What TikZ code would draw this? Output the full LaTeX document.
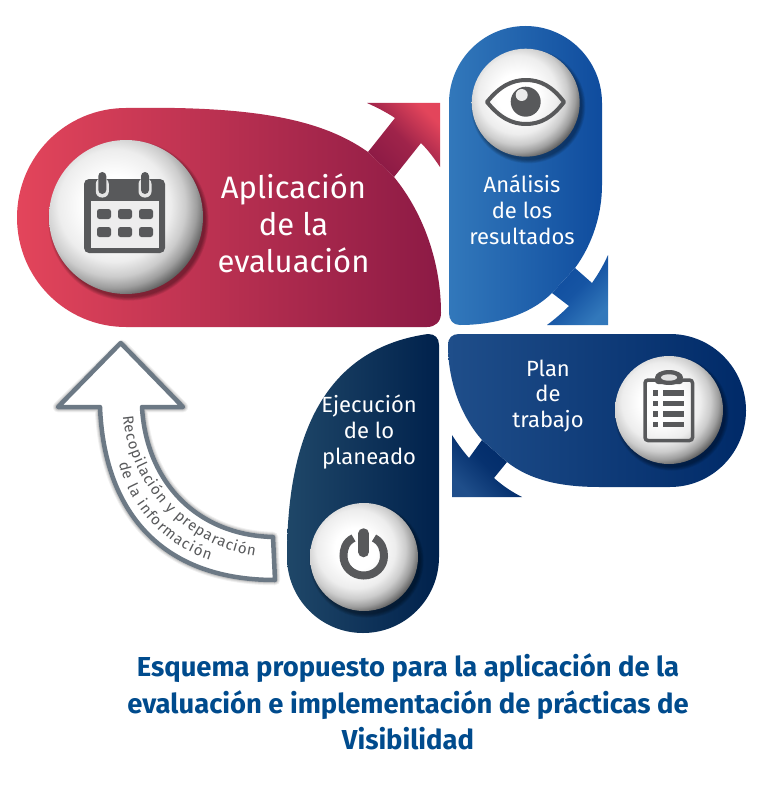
\documentclass[tikz,border=0pt]{standalone}
\usepackage{fontspec}
\setmainfont{Fira Sans}
\usetikzlibrary{decorations.text}
\definecolor{redL}{HTML}{E3455B}
\definecolor{redD}{HTML}{8C1A45}
\definecolor{bluL}{HTML}{3278BB}
\definecolor{bluD}{HTML}{0F4C9E}
\definecolor{plaL}{HTML}{1F4E8A}
\definecolor{plaD}{HTML}{002A68}
\definecolor{ejeL}{HTML}{1F4768}
\definecolor{ejeD}{HTML}{00214C}
\definecolor{icon}{HTML}{58595B}
\definecolor{arrowgray}{HTML}{6C7985}
\definecolor{titleblue}{HTML}{004B8D}
\pgfdeclareradialshading{ballshade}{\pgfpointorigin}{%
  color(0bp)=(white);
  color(8bp)=(white);
  color(15bp)=(black!7);
  color(19bp)=(black!20);
  color(22bp)=(black!38);
  color(25bp)=(black!65);
  color(50bp)=(black!65)}
\newcommand{\ball}[3]{% cx, cy, r
  \foreach \k in {1,...,6}{
    \fill[black,opacity=0.07] ({#1+2.5},{#2+3.5}) circle[radius={#3+\k*0.7-1}];
  }
  \begin{scope}
    \clip (#1,#2) circle[radius=#3];
    \shade[shading=ballshade] ({#1-0.15*#3},{#2-0.15*#3}) circle[radius={#3*1.212}];
  \end{scope}
}
\tikzset{
  x=1pt,y=-1pt,
  lab/.style={text=white,align=center,font=\fontsize{#1}{#1}\selectfont,inner sep=0pt},
  lab/.default=22,
  curved/.style={decoration={text along path,text align={fit to path},
     text={|\fontsize{15}{15}\selectfont\color{icon}|#1}},decorate},
}
\begin{document}
\begin{tikzpicture}
\useasboundingbox (0,0) rectangle (771,797);
\fill[white] (0,0) rectangle (771,797);

% ---------- red arrow
\path[bottom color=redD,top color=redL,middle color=redD!78!redL,shading angle=-45]
  (368,152) -- (395,118) .. controls (386,112) and (376,107) .. (367,103) -- (440,103) -- (440,167)
  .. controls (434,158) and (428,150) .. (421,143) -- (394,177) -- cycle;
% ---------- red body
\path[left color=redL,right color=redD]
  (126,108) .. controls (250,106) and (320,118) .. (368,152) -- (394,177)
  .. controls (425,215) and (441,265) .. (441,313)
  .. controls (441,322) and (435,327) .. (427,327) -- (126,327)
  .. controls (65.5,327) and (17,278) .. (17,217.5)
  .. controls (17,157) and (65.5,108) .. (126,108) -- cycle;

% ---------- blue arrow
\path[top color=bluD,bottom color=bluL,middle color=bluD!80!bluL,shading angle=45]
  (575,268) -- (592,283) .. controls (599,273) and (604,264) .. (608,255) -- (608,325) -- (547,325)
  .. controls (555,319) and (562,313) .. (569,306) -- (552,293) -- cycle;
% ---------- blue body
\path[left color=bluL,right color=bluD]
  (449,103) .. controls (449,60.7) and (483.2,26) .. (525.5,26)
  .. controls (567.8,26) and (602,60.7) .. (602,103) -- (602,185)
  .. controls (602,215) and (592,245) .. (575,268) -- (552,293)
  .. controls (530,315) and (495,325) .. (460,325)
  .. controls (453,325) and (449,320) .. (449,313) -- cycle;

% ---------- plan arrow
\path[top color=plaD,bottom color=plaL,middle color=plaD!80!plaL,shading angle=-45]
  (482,440) -- (469,458) .. controls (463,451) and (457,443) .. (452,435) -- (452,497) -- (522,497)
  .. controls (512,492) and (503,486) .. (494,478) -- (507,462) -- cycle;
% ---------- plan body
\path[left color=plaL,right color=plaD]
  (448,345) .. controls (448,338) and (452,334) .. (459,334) -- (670,334)
  .. controls (712,334) and (746,368.3) .. (746,410.5)
  .. controls (746,452.7) and (712,487) .. (670,487) -- (600,487)
  .. controls (560,487) and (530,480) .. (507,462) -- (482,440)
  .. controls (460,415) and (448,380) .. (448,345) -- cycle;

% ---------- ejecucion body
\path[left color=ejeL,right color=ejeD]
  (439,345) .. controls (439,338) and (435,334) .. (428,334)
  .. controls (350,345) and (287,400) .. (287,557)
  .. controls (287,599) and (321,633) .. (363,633)
  .. controls (405,633) and (439,599) .. (439,557) -- cycle;

% ---------- curved arrow
\foreach \k/\o in {1/0.10,2/0.08,3/0.06}{
  \draw[black,opacity=\o,line width={4.5+2*\k},line join=round]
  ([shift={(1,2)}]120.7,343) -- (183,407) -- (142,407) .. controls (146,480) and (195,535) .. (273,537)
  -- (275,580) .. controls (160,580) and (104,510) .. (100,407) -- (58,407) -- cycle;
}
\draw[arrowgray,fill=white,line width=4.5pt,line join=round]
  (120.7,343) -- (183,407) -- (142,407) .. controls (146,480) and (195,535) .. (273,537)
  -- (275,580) .. controls (160,580) and (104,510) .. (100,407) -- (58,407) -- cycle;
\path[curved={Recopilación y preparación}] (123,416) .. controls (128,480) and (180,545) .. (255,556);
\path[curved={de la información}] (119,463) .. controls (127,500) and (160,545) .. (210,560);

% ---------- balls
\ball{126}{217}{77}
\ball{525.7}{102.7}{54}
\ball{669}{410}{54}
\ball{364}{557}{54}

% ---------- calendar icon
\fill[icon,rounded corners=5pt] (84,179) rectangle (165,253);
\fill[black!7] (91,201) rectangle (159,248);
\foreach \cx in {102.3,145}{
  \fill[white!90!black,rounded corners=6pt] ({\cx-6.5},178) rectangle ({\cx+6.5},197.5);
  \fill[icon,rounded corners=4pt] ({\cx-4},172) rectangle ({\cx+4},194);
}
\foreach \cx in {104,125,146}{\foreach \cy in {214,232}{
  \fill[icon,rounded corners=2.5pt] ({\cx-7},{\cy-5}) rectangle ({\cx+7},{\cy+5});
}}

% ---------- eye icon
\draw[icon,line width=4pt,line join=round]
  (487,102) .. controls (500,86) and (512,80) .. (526,80)
  .. controls (540,80) and (552,86) .. (564,102)
  .. controls (552,118) and (540,124) .. (526,124)
  .. controls (512,124) and (500,118) .. (487,102) -- cycle;
\fill[icon] (525.7,101.7) circle[radius=15];
\fill[white!92!black] (521.7,95) circle[radius=6];

% ---------- clipboard icon
\draw[icon,line width=3.5pt,rounded corners=3pt] (645,380) rectangle (692.5,440.5);
\fill[icon,rounded corners=3pt] (655,378) rectangle (683,384);
\fill[icon] (669,377.5) ellipse[x radius=14,y radius=7.5];
\fill[black!12] (669,377.5) ellipse[x radius=8,y radius=3.2];
\foreach \cy in {393,403.7,414,424.3}{
  \fill[icon] (652.5,{\cy-2.6}) rectangle (658,{\cy+2.6});
  \fill[icon] (663,{\cy-2.6}) rectangle (684,{\cy+2.6});
}

% ---------- power icon
\draw[icon,line width=8pt] (353.5,538) .. controls (345,542) and (343.5,550) .. (343.5,556)
  .. controls (343.5,567) and (352.5,575.5) .. (363.7,575.5)
  .. controls (375,575.5) and (384,567) .. (384,556)
  .. controls (384,550) and (382,542) .. (374,538);
\draw[icon,line width=10.5pt,line cap=round] (363.7,533.5) -- (363.7,552);

% ---------- texts
\node[lab=31] (aplic) at (293.5,223.5) {Aplicación\\[6pt]de la\\[6pt]evaluación};
\node[lab=22] (anal) at (522,210) {Análisis\\[3.8pt]de los\\[3.8pt]resultados};
\node[lab=22] (plan) at (548,396) {Plan\\[3.8pt]de\\[3.8pt]trabajo};
\node[lab=22] (ejec) at (369,432) {Ejecución\\[3.8pt]de lo\\[3.8pt]planeado};
\node[text=titleblue,align=center,inner sep=0pt,font=\fontsize{27.4}{36.5}\selectfont\bfseries] (title) at (408,702)
  {Esquema propuesto para la aplicación de la\\evaluación e implementación de prácticas de\\Visibilidad};
\end{tikzpicture}
\end{document}
